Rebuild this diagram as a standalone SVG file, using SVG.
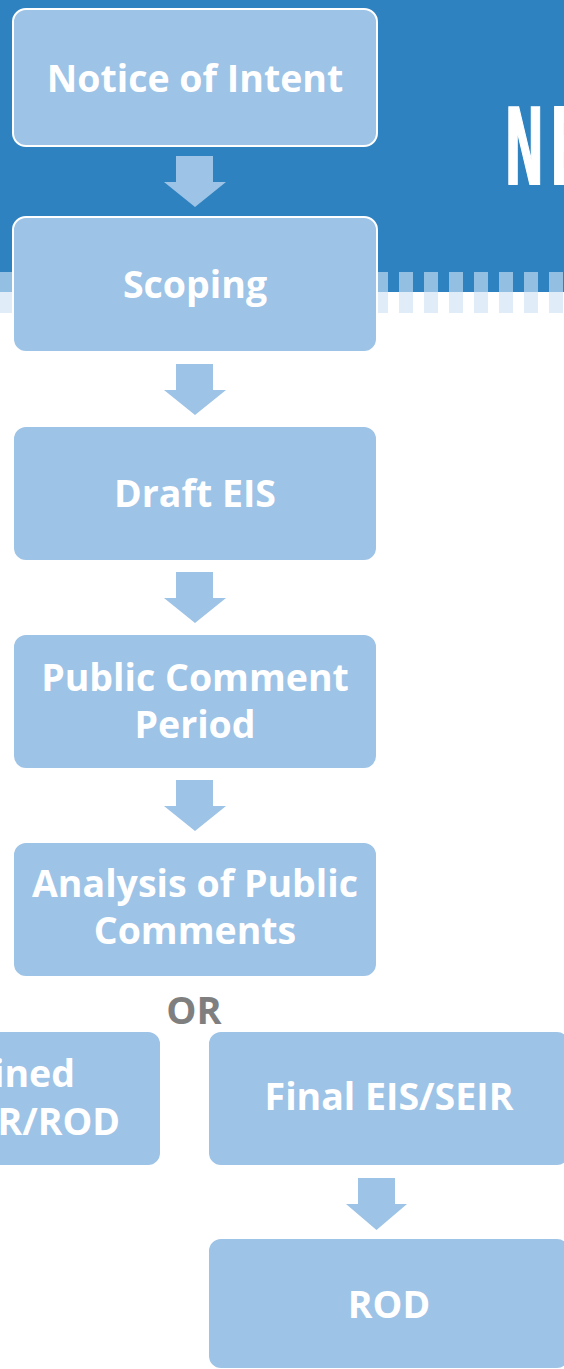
<svg xmlns="http://www.w3.org/2000/svg" width="564" height="1369" viewBox="0 0 564 1369">
<defs>
<style>
.box{fill:#9DC3E6;stroke:#FFFFFF;stroke-width:2}
.lbl{font-family:"Open Sans","Liberation Sans",sans-serif;font-weight:700;font-size:37.5px;fill:#FFFFFF;text-anchor:middle}
.arrow{fill:#9DC3E6}
.s1{fill:#93BFE2}
.s2{fill:#E0ECF7}
</style>
<pattern id="stripeTop" x="-1" y="272" width="25" height="20" patternUnits="userSpaceOnUse">
<rect x="0" y="0" width="14" height="20" class="s1"/>
</pattern>
<pattern id="stripeBot" x="-1" y="292" width="25" height="21" patternUnits="userSpaceOnUse">
<rect x="0" y="0" width="14" height="21" class="s2"/>
</pattern>
</defs>
<rect x="0" y="0" width="564" height="1369" fill="#FFFFFF"/>
<g id="banner">
<rect x="0" y="0" width="564" height="292" fill="#2E82C0"/>
<rect x="0" y="272" width="564" height="20" fill="url(#stripeTop)"/>
<rect x="0" y="292" width="564" height="21" fill="url(#stripeBot)"/>
<text transform="scale(0.45,1)" x="1121" y="184" font-family="'DejaVu Sans','Liberation Sans',sans-serif" font-weight="700" font-size="105" letter-spacing="14" fill="#FFFFFF" stroke="#FFFFFF" stroke-width="2">NE</text>
</g>
<g id="connectors">
<polygon class="arrow" points="176,156 213,156 213,182 226,182 195,207 164,182 176,182"/>
<polygon class="arrow" points="176,364 213,364 213,390 226,390 195,415 164,390 176,390"/>
<polygon class="arrow" points="176,572 213,572 213,598 226,598 195,623 164,598 176,598"/>
<polygon class="arrow" points="176,780 213,780 213,806 226,806 195,831 164,806 176,806"/>
<polygon class="arrow" points="358,1178 395,1178 395,1204 407,1204 376.5,1230 346,1204 358,1204"/>
</g>
<g id="notice">
<rect class="box" x="13" y="9" width="364" height="137" rx="13"/>
<text class="lbl" x="195" y="92">Notice of Intent</text>
</g>
<g id="scoping">
<rect class="box" x="13" y="217" width="364" height="135" rx="13"/>
<text class="lbl" x="195" y="298">Scoping</text>
</g>
<g id="draft">
<rect class="box" x="13" y="426" width="364" height="135" rx="13"/>
<text class="lbl" x="195" y="507">Draft EIS</text>
</g>
<g id="public-comment">
<rect class="box" x="13" y="634" width="364" height="135" rx="13"/>
<text class="lbl" x="195" y="691">Public Comment</text>
<text class="lbl" x="195" y="738">Period</text>
</g>
<g id="analysis">
<rect class="box" x="13" y="842" width="364" height="135" rx="13"/>
<text class="lbl" x="195" y="897">Analysis of Public</text>
<text class="lbl" x="195" y="944">Comments</text>
</g>
<g id="or-label">
<text x="194" y="1024" font-family="'Open Sans','Liberation Sans',sans-serif" font-weight="700" font-size="38" fill="#7F7F7F" text-anchor="middle">OR</text>
</g>
<g id="combined">
<rect class="box" x="-200" y="1031" width="361" height="135" rx="13"/>
<text class="lbl" x="75" y="1087" style="text-anchor:end">ined</text>
<text class="lbl" x="120" y="1135" style="text-anchor:end">R/ROD</text>
</g>
<g id="final">
<rect class="box" x="208" y="1031" width="362" height="135" rx="13"/>
<text class="lbl" x="389" y="1110">Final EIS/SEIR</text>
</g>
<g id="rod">
<rect class="box" x="208" y="1238" width="362" height="131" rx="13"/>
<text class="lbl" x="389" y="1318">ROD</text>
</g>
</svg>
